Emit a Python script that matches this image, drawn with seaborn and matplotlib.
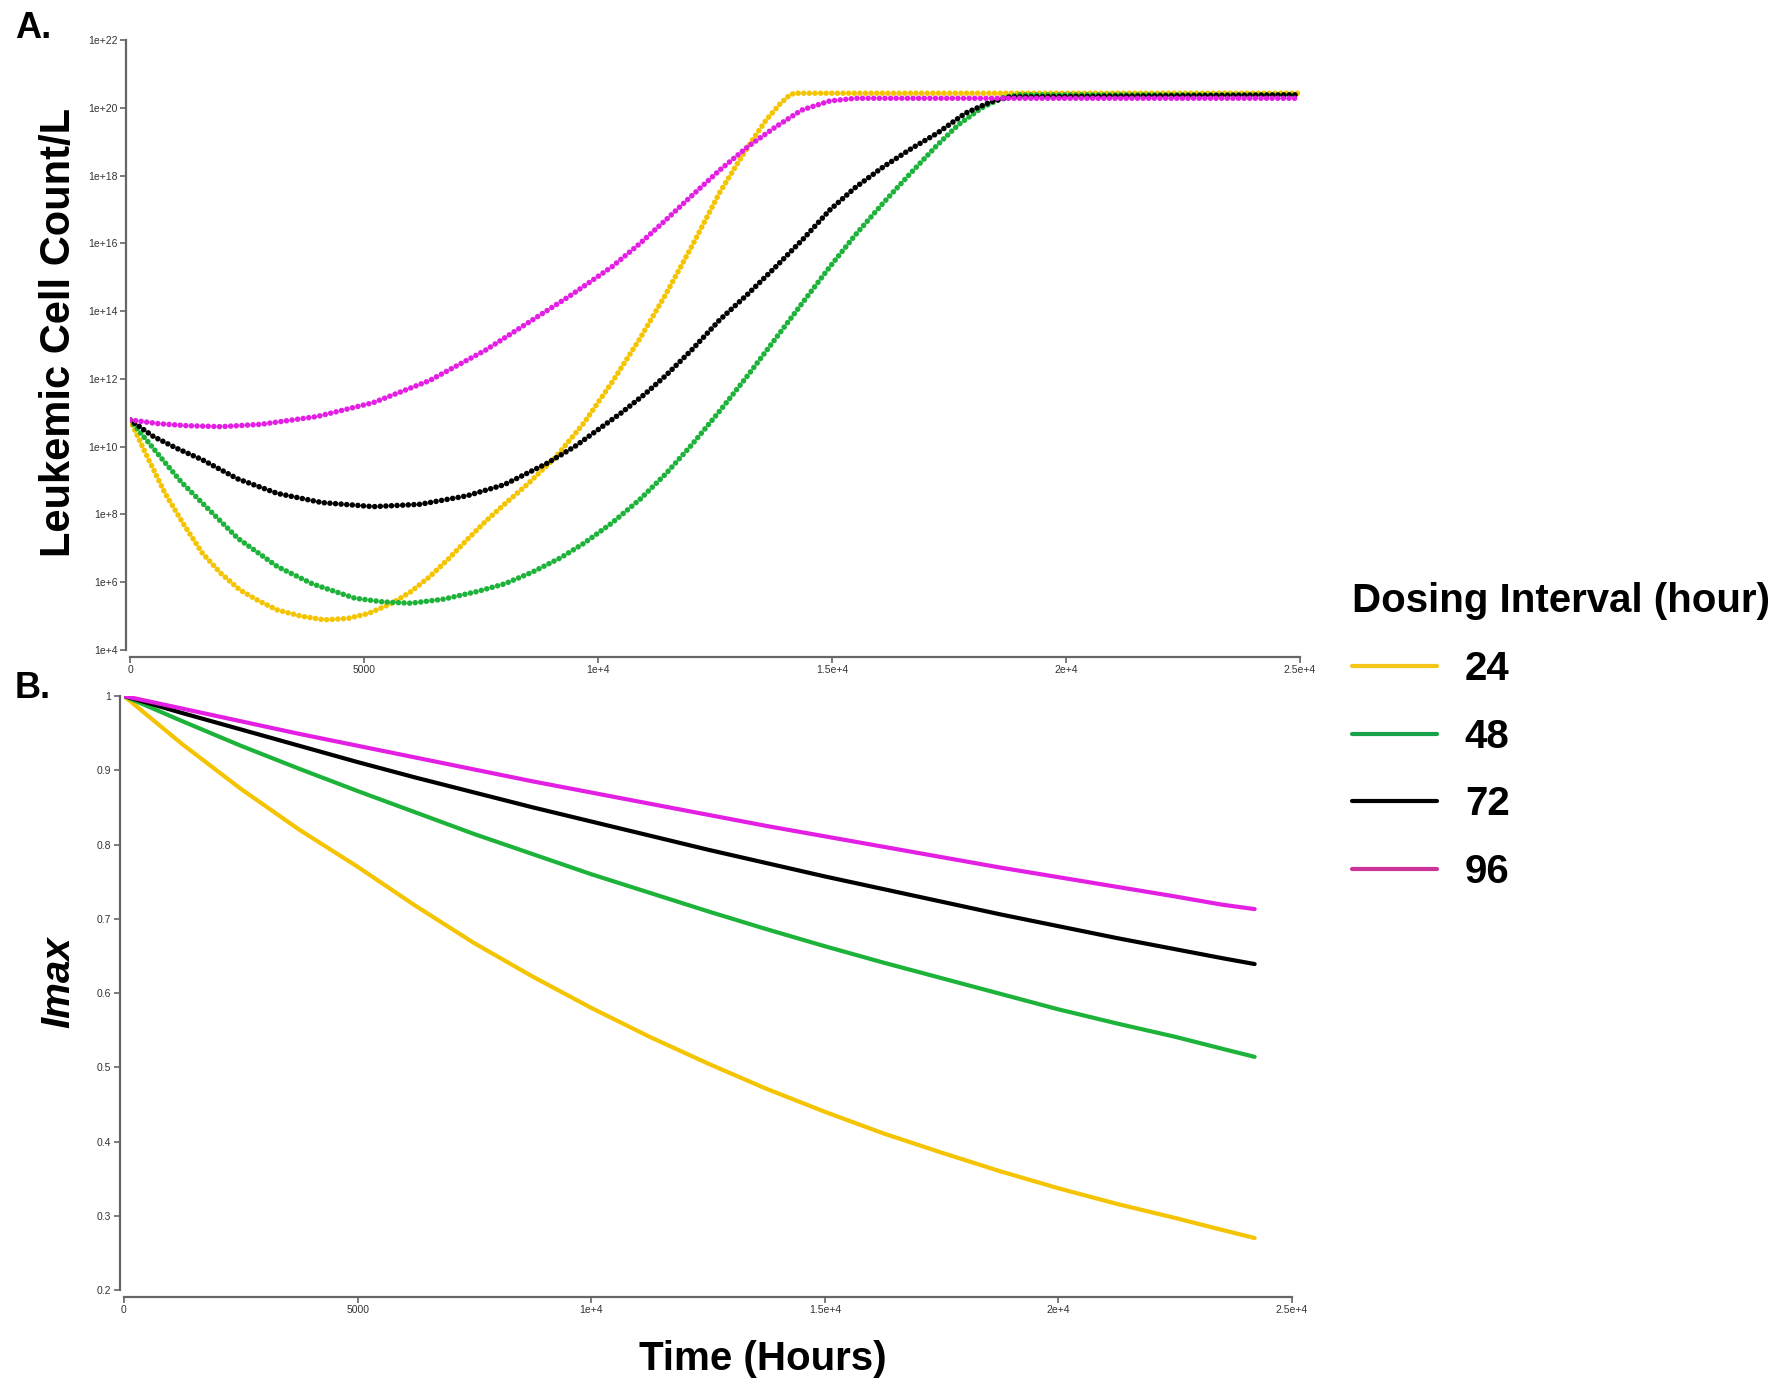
import numpy as np
import pandas as pd
import seaborn as sns
import matplotlib.pyplot as plt
from matplotlib.lines import Line2D

# dosing intervals (hours) and colours
intervals = ['24', '48', '72', '96']
colors = ['#F5C400', '#1DB33A', '#000000', '#E41FE4']
legend_colors = ['#F5C518', '#17A34A', '#000000', '#CC3399']

# panel A: leukemic cell count (log10 of cells/L) vs time (hours)
t_24 = [0, 300, 750, 1150, 1550, 1950, 2350, 2750, 3150, 3650, 4150, 4650, 5100, 5600, 6000, 6400,
        6800, 7200, 7600, 8000, 8500, 9100, 9700, 10300, 10900, 11450, 12000, 12600, 13000, 13300,
        13600, 13900, 14100, 14200, 25000]
log_24 = [10.79, 9.9, 8.62, 7.7, 6.85, 6.25, 5.77, 5.45, 5.18, 5.0, 4.89, 4.93, 5.08, 5.38, 5.72, 6.16,
          6.68, 7.25, 7.8, 8.3, 8.9, 9.7, 10.7, 11.9, 13.2, 14.5, 15.9, 17.5, 18.4, 19.05,
          19.65, 20.13, 20.38, 20.43, 20.43]
t_48 = [0, 350, 700, 1100, 1550, 2300, 3150, 3900, 4800, 5400, 6000, 6700, 7400, 8000, 8600, 9200,
        9700, 10300, 10900, 11450, 12000, 12600, 13200, 13800, 14400, 14950, 15500, 16100, 16700,
        17250, 17700, 18200, 18650, 19000, 25000]
log_48 = [10.79, 10.2, 9.61, 8.95, 8.33, 7.3, 6.46, 5.95, 5.53, 5.42, 5.38, 5.5, 5.72, 5.95, 6.3, 6.72,
          7.15, 7.75, 8.45, 9.2, 10.05, 11.05, 12.1, 13.2, 14.3, 15.3, 16.25, 17.2, 18.1,
          18.9, 19.5, 20.0, 20.3, 20.38, 20.38]
t_72 = [0, 500, 1000, 1550, 2300, 3150, 4100, 5200, 6200, 7200, 8000, 8900, 9500, 10000, 10500,
        11000, 11450, 12000, 12600, 13200, 13800, 14400, 14950, 15500, 16100, 16700, 17250, 17850,
        18400, 18800, 25000]
log_72 = [10.79, 10.3, 9.95, 9.61, 9.05, 8.62, 8.35, 8.23, 8.3, 8.55, 8.88, 9.5, 10.0, 10.5, 11.0,
          11.55, 12.1, 12.85, 13.74, 14.5, 15.31, 16.15, 16.98, 17.65, 18.26, 18.8, 19.25, 19.84,
          20.18, 20.32, 20.38]
t_96 = [0, 600, 1200, 1950, 2800, 4000, 5200, 6400, 7000, 7600, 8600, 9400, 10300, 10900, 11450,
        12000, 12600, 13200, 13800, 14350, 14950, 15500, 25000]
log_96 = [10.79, 10.68, 10.62, 10.59, 10.66, 10.89, 11.3, 11.95, 12.4, 12.85, 13.74, 14.45, 15.31,
          16.0, 16.69, 17.4, 18.16, 18.85, 19.44, 19.93, 20.2, 20.28, 20.28]

# panel B: Imax vs time (hours)
t_imax = [0, 1250, 2500, 3750, 5000, 6250, 7500, 8750, 10000, 11250, 12500, 13750, 15000, 16250,
          17500, 18750, 20000, 21250, 22500, 23500, 24200]
imax_24 = [1.0, 0.935, 0.875, 0.82, 0.770, 0.717, 0.667, 0.622, 0.580, 0.541, 0.505, 0.471, 0.440,
           0.411, 0.385, 0.36, 0.337, 0.316, 0.297, 0.281, 0.270]
imax_48 = [1.0, 0.966, 0.933, 0.902, 0.872, 0.843, 0.814, 0.787, 0.760, 0.735, 0.710, 0.686, 0.663,
           0.641, 0.620, 0.599, 0.578, 0.559, 0.541, 0.525, 0.514]
imax_72 = [1.0, 0.977, 0.955, 0.933, 0.911, 0.89, 0.870, 0.85, 0.831, 0.812, 0.793, 0.775, 0.757,
           0.74, 0.723, 0.706, 0.690, 0.674, 0.659, 0.647, 0.639]
imax_96 = [1.0, 0.983, 0.966, 0.949, 0.933, 0.917, 0.901, 0.885, 0.870, 0.855, 0.840, 0.825, 0.811,
           0.797, 0.783, 0.769, 0.756, 0.743, 0.730, 0.719, 0.713]

# tick labels
x_ticks = [0, 5000, 10000, 15000, 20000, 25000]
x_labels = ['0', '5000', '1e+4', '1.5e+4', '2e+4', '2.5e+4']
y_exps = [4, 6, 8, 10, 12, 14, 16, 18, 20, 22]
imax_ticks = [0.2, 0.3, 0.4, 0.5, 0.6, 0.7, 0.8, 0.9, 1.0]
imax_labels = ['0.2', '0.3', '0.4', '0.5', '0.6', '0.7', '0.8', '0.9', '1']

sns.set_style('white')
plt.rcParams['font.family'] = ['Liberation Sans', 'DejaVu Sans']
plt.rcParams['text.color'] = 'black'
plt.rcParams['axes.labelcolor'] = 'black'

top = pd.concat([
    pd.DataFrame({'time': t, 'count': 10.0 ** np.array(v), 'interval': k})
    for t, v, k in zip([t_24, t_48, t_72, t_96], [log_24, log_48, log_72, log_96], intervals)
])
bottom = pd.concat([
    pd.DataFrame({'time': t_imax, 'imax': v, 'interval': k})
    for v, k in zip([imax_24, imax_48, imax_72, imax_96], intervals)
])
pal = dict(zip(intervals, colors))

fig = plt.figure(figsize=(17.9, 13.98), dpi=100)
ax1 = fig.add_axes([130 / 1790, 1 - 650 / 1398, 1170 / 1790, 610 / 1398])
ax2 = fig.add_axes([124 / 1790, 1 - 1290 / 1398, 1168 / 1790, 594 / 1398])

# beaded lines like the original simulation output
sns.lineplot(data=top, x='time', y='count', hue='interval', palette=pal, ax=ax1,
             legend=False, lw=4, linestyle=(0, (0.01, 1.0)), dash_capstyle='round')
sns.lineplot(data=bottom, x='time', y='imax', hue='interval', palette=pal, ax=ax2,
             legend=False, lw=3)

ax1.set_yscale('log')
ax1.set_ylim(1e4, 1e22)
ax1.set_yticks([10.0 ** e for e in y_exps])
ax1.set_yticklabels(['1e+%d' % e for e in y_exps])
ax1.minorticks_off()
ax2.set_ylim(0.2, 1.0)
ax2.set_yticks(imax_ticks)
ax2.set_yticklabels(imax_labels)

for ax in (ax1, ax2):
    ax.set_xlim(0, 25000)
    ax.set_xticks(x_ticks)
    ax.set_xticklabels(x_labels)
    ax.set_xlabel('')
    ax.set_ylabel('')
    sns.despine(ax=ax)
    ax.spines['left'].set_position(('outward', 3))
    ax.spines['bottom'].set_position(('outward', 5))
    for s in ('left', 'bottom'):
        ax.spines[s].set_color('#666666')
        ax.spines[s].set_linewidth(1.6)
    ax.tick_params(axis='both', direction='out', length=4, width=1.2, color='#666666',
                   labelsize=7.5, labelcolor='#333333', pad=2,
                   left=True, bottom=True)

ax1.set_ylabel('Leukemic Cell Count/L', fontsize=30, fontweight='bold')
ax1.yaxis.set_label_coords(-0.044, 0.52)
ax2.set_ylabel('Imax', fontsize=29, fontweight='bold', fontstyle='italic')
ax2.yaxis.set_label_coords(-0.040, 0.518)
ax2.set_xlabel('Time (Hours)', fontsize=29, fontweight='bold')
ax2.xaxis.set_label_coords(0.547, -0.085)

fig.text(15 / 1790, 1 - 28 / 1398, 'A.', fontsize=26, fontweight='bold', va='center')
fig.text(15 / 1790, 1 - 688 / 1398, 'B.', fontsize=26, fontweight='bold', va='center')

handles = [Line2D([], [], color=c, lw=3) for c in legend_colors]
leg = fig.legend(handles, intervals, title='Dosing Interval (hour)', loc='upper left',
                 bbox_to_anchor=(1352 / 1790, 1 - 582 / 1398), frameon=False,
                 borderpad=0, borderaxespad=0,
                 prop={'size': 29, 'weight': 'bold'}, title_fontproperties={'size': 29, 'weight': 'bold'},
                 handlelength=2.1, handletextpad=0.7, labelspacing=0.74, alignment='left')

fig.savefig('out.png', dpi=100)
